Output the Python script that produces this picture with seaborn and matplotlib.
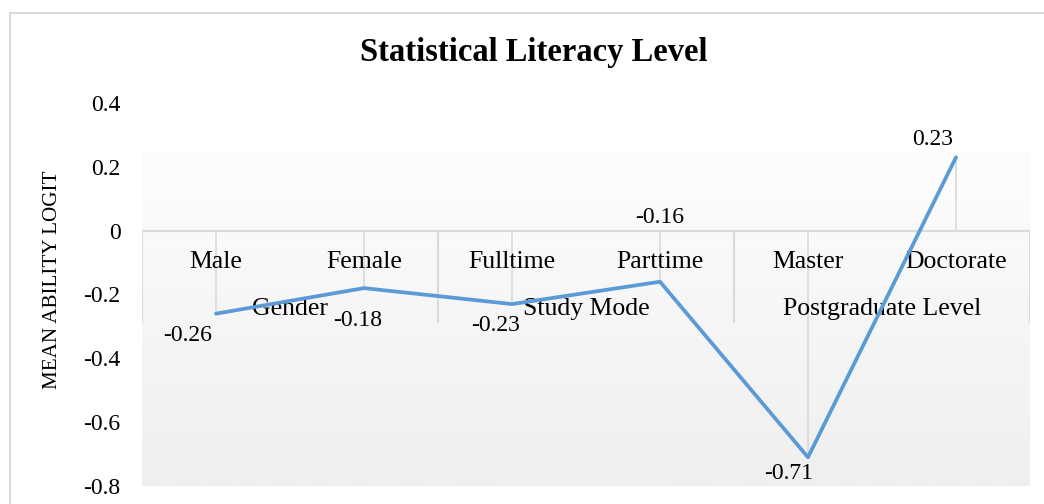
import numpy as np
import pandas as pd
import matplotlib
matplotlib.use('Agg')
import matplotlib.pyplot as plt
import matplotlib.patches as patches
import seaborn as sns

# %%
categories = ['Male', 'Female', 'Fulltime', 'Parttime', 'Master', 'Doctorate']
groups = ['Gender', 'Study Mode', 'Postgraduate Level']
values = [-0.26, -0.18, -0.23, -0.16, -0.71, 0.23]
y_ticks = [0.4, 0.2, 0, -0.2, -0.4, -0.6, -0.8]
y_tick_labels = ['0.4', '0.2', '0', '-0.2', '-0.4', '-0.6', '-0.8']

df = pd.DataFrame({'Category': categories, 'Value': values})

# %%
sns.set_style('white')
plt.rcParams['font.family'] = ['Liberation Serif', 'DejaVu Serif']
plt.rcParams['text.color'] = 'black'
plt.rcParams['axes.labelcolor'] = 'black'
plt.rcParams['ytick.color'] = 'black'

fig = plt.figure(figsize=(10.44, 5.04), dpi=100)
ax = fig.add_axes([142 / 1044, 1 - 486 / 504, 888 / 1044, 383 / 504])

# fond dégradé de la zone de tracé
grad = np.linspace(0, 1, 256).reshape(-1, 1)
cmap = matplotlib.colors.LinearSegmentedColormap.from_list('bg', ['#fdfdfd', '#efefef'])
ax.imshow(grad, extent=[-0.5, 5.5, -0.8, 0.245], aspect='auto', cmap=cmap,
          origin='upper', zorder=0)

# axe des catégories en zéro + séparateurs de groupes
ax.hlines(0, -0.5, 5.5, color='#d9d9d9', lw=1.5, zorder=1)
ax.vlines([-0.5, 1.5, 3.5, 5.5], -0.288, 0, color='#d9d9d9', lw=1.5, zorder=1)
# lignes de projection
ax.vlines(range(len(values)), 0, values, color='#d9d9d9', lw=1.2, zorder=1)

sns.lineplot(data=df, x='Category', y='Value', sort=False, color='#5b9bd5',
             linewidth=2.7, ax=ax, zorder=3)

for i, c in enumerate(categories):
    ax.text(i, -0.097, c, ha='center', va='center', fontsize=18.5, zorder=2)
for j, g in enumerate(groups):
    ax.text(2 * j + 0.5, -0.245, g, ha='center', va='center', fontsize=18.5, zorder=2)

# étiquettes de données
offsets = [(-0.19, -0.07), (-0.04, -0.1), (-0.11, -0.066), (0.0, 0.2), (-0.13, -0.05), (-0.155, 0.055)]
for i, (v, (dx, dy)) in enumerate(zip(values, offsets)):
    ax.text(i + dx, v + dy, f'{v:.2f}', ha='center', va='center', fontsize=17, zorder=4)

ax.set_xlim(-0.5, 5.5)
ax.set_ylim(-0.8, 0.4)
ax.set_xticks([])
ax.set_yticks(y_ticks, labels=y_tick_labels, fontsize=17)
ax.tick_params(axis='y', length=0, pad=15.5)
ax.set_xlabel('')
ax.set_ylabel('MEAN ABILITY LOGIT', fontsize=15.2)
ax.yaxis.set_label_coords(-0.09, 0.538)
for s in ax.spines.values():
    s.set_visible(False)
ax.patch.set_alpha(0)

fig.text(534 / 1044, 1 - 52 / 504, 'Statistical Literacy Level', ha='center',
         va='center', fontsize=23.5, fontweight='bold')

fig.patches.append(patches.Rectangle((10 / 1044, -0.01), 1.0, 1 - 13 / 504 + 0.01,
                                     transform=fig.transFigure, fill=False,
                                     edgecolor='#d9d9d9', lw=1.5))

fig.savefig('out.png', dpi=100)
